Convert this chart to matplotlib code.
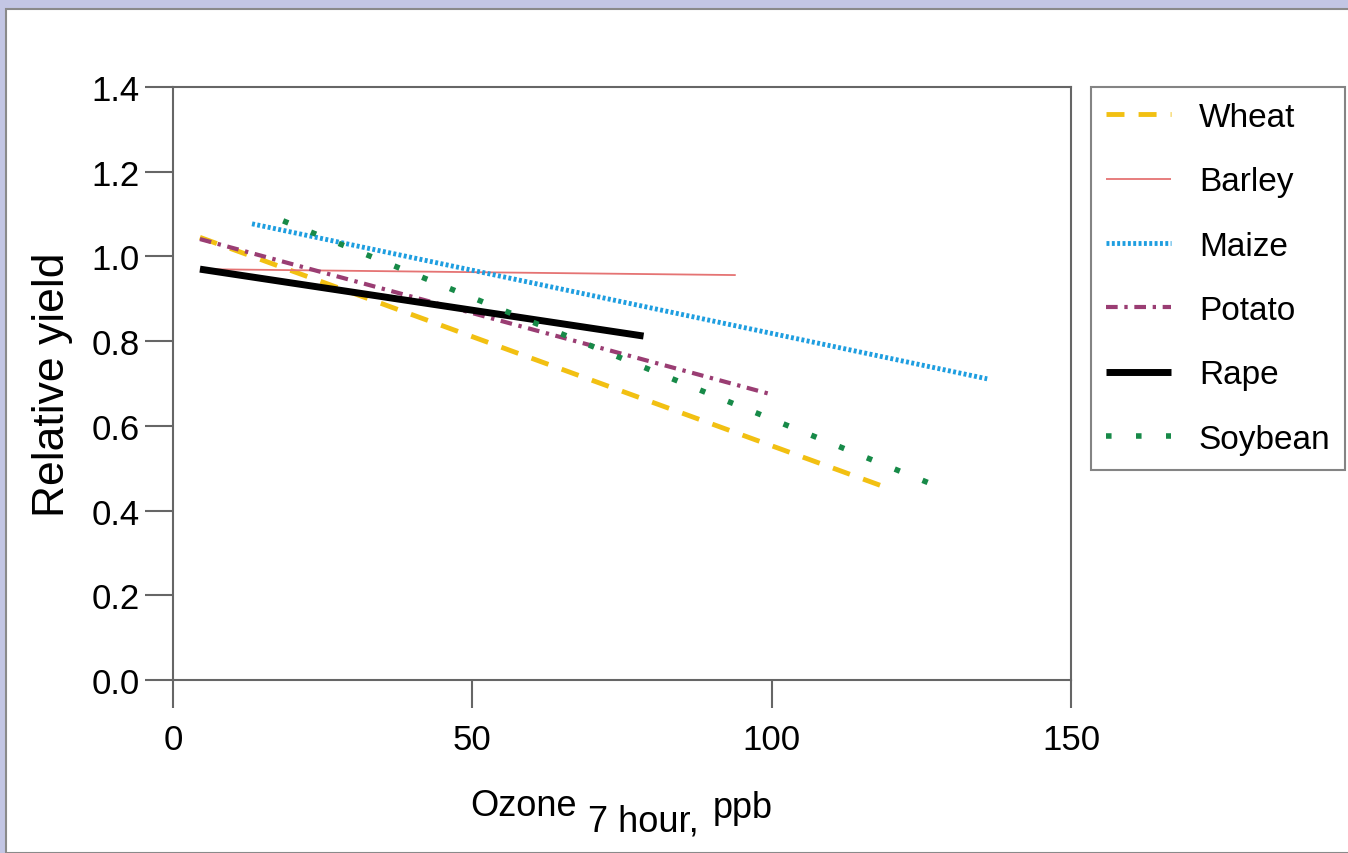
import matplotlib
matplotlib.use('Agg')
from matplotlib import pyplot as plt
from matplotlib.patches import Rectangle

plt.rcParams['font.family'] = ['Liberation Sans', 'DejaVu Sans']

# crop response lines, endpoints
crops = ['Wheat', 'Barley', 'Maize', 'Potato', 'Rape', 'Soybean']
ozone_start = [4.5, 4.5, 13.2, 4.5, 4.5, 18.4]
ozone_end = [120.0, 94.0, 136.0, 100.3, 78.6, 126.3]
yield_start = [1.045, 0.970, 1.077, 1.041, 0.970, 1.084]
yield_end = [0.450, 0.956, 0.711, 0.673, 0.812, 0.465]

xticks = [0, 50, 100, 150]
yticks = [0.0, 0.2, 0.4, 0.6, 0.8, 1.0, 1.2, 1.4]

styles = {
    'Wheat':   dict(color='#f2c012', lw=3.5, ls=(0, (3.7, 2.9))),
    'Barley':  dict(color='#e57373', lw=1.3, ls='-'),
    'Maize':   dict(color='#1e9ee0', lw=3.5, ls=(0, (0.6, 0.5))),
    'Potato':  dict(color='#9a3d73', lw=3.0, ls=(0, (2.8, 1.6, 0.8, 1.6))),
    'Rape':    dict(color='#000000', lw=5.0, ls='-'),
    'Soybean': dict(color='#178a48', lw=4.0, ls=(0, (1, 4.4))),
}
fs = 25

fig = plt.figure(figsize=(13.48, 8.54), dpi=100)
fig.patch.set_facecolor('#c3c6e4')
fig.patches.append(Rectangle((6 / 1348, 0), 1, (854 - 10) / 854,
                             transform=fig.transFigure, facecolor='white',
                             edgecolor='#8a8a8a', lw=1.5, zorder=-5))

ax = fig.add_axes([173 / 1348, 173 / 854, 898 / 1348, 593 / 854])
ax.set_zorder(2)
ax.set_facecolor('white')

for i, c in enumerate(crops):
    ax.plot([ozone_start[i], ozone_end[i]], [yield_start[i], yield_end[i]],
            label=c, solid_capstyle='butt', dash_capstyle='butt', **styles[c])

ax.set_xlim(0, 150)
ax.set_ylim(0, 1.4)
ax.set_xticks(xticks)
ax.set_xticklabels([str(t) for t in xticks])
ax.set_yticks(yticks)
ax.set_yticklabels(['%.1f' % t for t in yticks])
ax.tick_params(direction='out', length=20, width=1.5, color='#666666',
               labelsize=fs)
ax.tick_params(axis='x', pad=11)
ax.tick_params(axis='y', pad=4)
for s in ax.spines.values():
    s.set_color('#666666')
    s.set_linewidth(1.5)

ax.set_ylabel('Relative yield', fontsize=32, labelpad=13)

# x label with same-size lowered subscript
fig.text(470 / 1348, 1 - 816 / 854, 'Ozone', fontsize=26, va='baseline', zorder=3)
fig.text(588 / 1348, 1 - 832 / 854, '7 hour,', fontsize=26, va='baseline', zorder=3)
fig.text(713 / 1348, 1 - 818 / 854, 'ppb', fontsize=26, va='baseline', zorder=3)

leg = ax.legend(loc='upper left', bbox_to_anchor=(1.022, 1.0), fontsize=24,
                frameon=True, fancybox=False, edgecolor='#666666',
                handlelength=1.95, handletextpad=0.84,
                labelspacing=1.0, borderpad=0.45, borderaxespad=0)
leg.get_frame().set_linewidth(1.5)

fig.savefig('out.png', dpi=100, facecolor=fig.get_facecolor())
